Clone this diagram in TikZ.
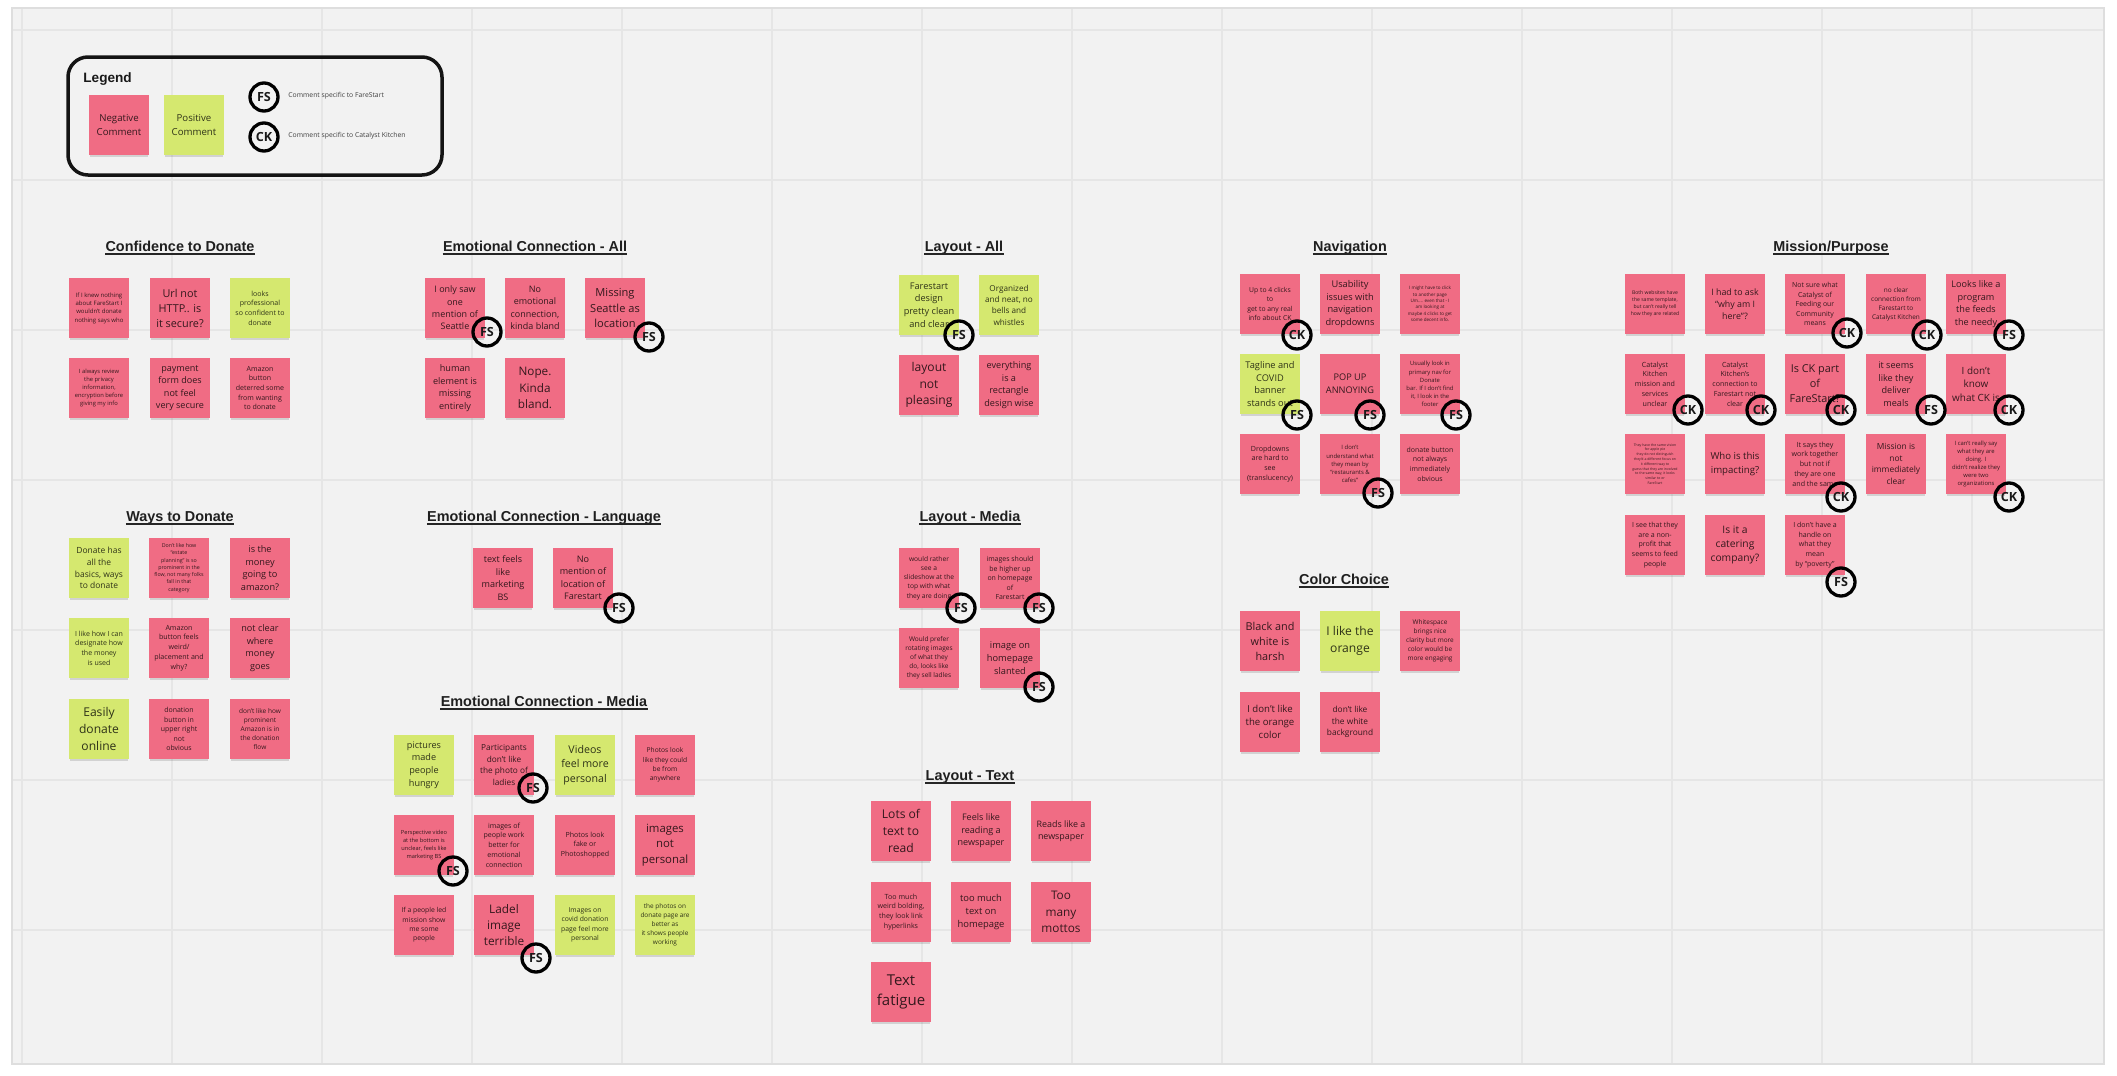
\documentclass[tikz,border=0pt]{standalone}
\usepackage{fontspec}
\setmainfont{Open Sans}
\newfontfamily\notefont{Open Sans}
\newfontfamily\titlefont{Liberation Sans}
\usetikzlibrary{shadows}
\definecolor{negc}{HTML}{F06C84}
\definecolor{posc}{HTML}{D5E86F}
\definecolor{canvasc}{HTML}{F2F2F2}
\definecolor{gridc}{HTML}{E6E6E6}
\colorlet{negt}{black!78!negc}
\colorlet{post}{black!78!posc}
\newcommand\fs[1]{\fontsize{\fpeval{0.362*#1}}{\fpeval{0.5*#1}}\selectfont}
\newcommand\snote[6]{\node[#4note, font={\notefont\fs{#5}}] (#1) at (#2,#3) {#6};}
\newcommand\badge[4]{\node[badge] (#1) at (#2,#3) {#4};}
\newcommand\ttl[4]{\node[ttl] (#1) at (#2,#3) {#4};
  \draw[uline] ([yshift=-1.35pt]#1.base west) -- ([yshift=-1.35pt]#1.base east);}
\tikzset{
  stickynote/.style={minimum width=30pt, minimum height=30pt, inner sep=0.5pt, align=center,
    drop shadow={shadow xshift=0pt, shadow yshift=-1.5pt, shadow scale=0.97, opacity=0.13, fill=black}},
  negnote/.style={stickynote, fill=negc, text=negt},
  posnote/.style={stickynote, fill=posc, text=post},
  badge/.style={circle, draw=black, line width=1.65pt, minimum size=14pt, inner sep=0pt,
    font=\notefont\bfseries\fontsize{6.3}{7}\selectfont, text=black!90},
  ttl/.style={anchor=base, inner sep=0pt, font=\titlefont\bfseries\fontsize{7.2}{8}\selectfont, text=black!88},
  uline/.style={line width=0.8pt, black!85},
  legtxt/.style={anchor=west, inner sep=0pt, font=\notefont\fontsize{3.4}{4}\selectfont, text=black!75},
  legbox/.style={draw=black!92, line width=1.75pt, rounded corners=10pt, minimum width=187pt, minimum height=59pt, inner sep=0pt},
}
\begin{document}
\begin{tikzpicture}[x=0.5pt, y=-0.5pt]
\useasboundingbox (0,0) rectangle (2117,1076);
\fill[white] (0,0) rectangle (2117,1076);
\fill[canvasc] (12,8) rectangle (2104,1064);
\foreach \gx in {22,172,...,2072} \draw[gridc, line width=0.6pt] (\gx,8) -- (\gx,1064);
\foreach \gy in {30,180,...,930} \draw[gridc, line width=0.6pt] (12,\gy) -- (2104,\gy);
\draw[black!13, line width=0.6pt] (12,8) rectangle (2104,1064);

% Legend
\node[legbox] (legend) at (255,116) {};
\node[anchor=base west, inner sep=0pt, font=\titlefont\bfseries\fontsize{6.8}{8}\selectfont, text=black!90] (legtitle) at (83,83) {Legend};
\snote{lgneg}{119}{125}{neg}{13.3}{Negative\\Comment}
\snote{lgpos}{194}{125}{pos}{13.3}{Positive\\Comment}
\badge{lgfs}{264}{97}{FS}
\badge{lgck}{264}{137}{CK}
\node[legtxt] (lgfstxt) at (288,96) {Comment specific to FareStart};
\node[legtxt] (lgcktxt) at (288,136) {Comment specific to Catalyst Kitchen};

% Titles
\ttl{tconf}{180}{251}{Confidence to Donate}
\ttl{tways}{180}{521}{Ways to Donate}
\ttl{teca}{535}{251}{Emotional Connection - All}
\ttl{tecl}{544}{521}{Emotional Connection - Language}
\ttl{tecm}{544}{706}{Emotional Connection - Media}
\ttl{tla}{964}{251}{Layout - All}
\ttl{tlm}{970}{521}{Layout - Media}
\ttl{tlt}{970}{780}{Layout - Text}
\ttl{tnav}{1350}{251}{Navigation}
\ttl{tcol}{1344}{584}{Color Choice}
\ttl{tmis}{1831}{251}{Mission/Purpose}

% Confidence to Donate
\snote{c1}{99}{308}{neg}{8.3}{If I knew nothing\\about FareStart I\\wouldn’t donate\\nothing says who}
\snote{c2}{180}{308}{neg}{15}{Url not\\HTTP.. is\\it secure?}
\snote{c3}{260}{308}{pos}{9.7}{looks\\professional\\so confident to\\donate}
\snote{c4}{99}{388}{neg}{8}{I always review\\the privacy\\information,\\encryption before\\giving my info}
\snote{c5}{180}{388}{neg}{12.5}{payment\\form does\\not feel\\very secure}
\snote{c6}{260}{388}{neg}{9.7}{Amazon\\button\\deterred some\\from wanting\\to donate}

% Ways to Donate
\snote{w1}{99}{568}{pos}{11.7}{Donate has\\all the\\basics, ways\\to donate}
\snote{w2}{179}{568}{neg}{7.3}{Don’t like how\\“estate\\planning” is so\\prominent in the\\flow, not many folks\\fall in that\\category}
\snote{w3}{260}{568}{neg}{12.7}{is the\\money\\going to\\amazon?}
\snote{w4}{99}{648}{pos}{9.7}{I like how I can\\designate how\\the money\\is used}
\snote{w5}{179}{648}{neg}{9.8}{Amazon\\button feels\\weird/\\placement and\\why?}
\snote{w6}{260}{648}{neg}{12.6}{not clear\\where\\money\\goes}
\snote{w7}{99}{729}{pos}{16.7}{Easily\\donate\\online}
\snote{w8}{179}{729}{neg}{9.6}{donation\\button in\\upper right\\not\\obvious}
\snote{w9}{260}{729}{neg}{9}{don’t like how\\prominent\\Amazon is in\\the donation\\flow}

% Emotional Connection - All
\snote{ea1}{455}{308}{neg}{12.4}{I only saw\\one\\mention of\\Seattle}
\snote{ea2}{535}{308}{neg}{12.4}{No\\emotional\\connection,\\kinda bland}
\snote{ea3}{615}{308}{neg}{15.3}{Missing\\Seattle as\\location}
\snote{ea4}{455}{388}{neg}{12.6}{human\\element is\\missing\\entirely}
\snote{ea5}{535}{388}{neg}{16.2}{Nope.\\Kinda\\bland.}

% Emotional Connection - Language
\snote{el1}{503}{578}{neg}{12.5}{text feels\\like\\marketing\\BS}
\snote{el2}{583}{578}{neg}{12.5}{No\\mention of\\location of\\Farestart}

% Emotional Connection - Media
\snote{em1}{424}{765}{pos}{12.6}{pictures\\made\\people\\hungry}
\snote{em2}{504}{765}{neg}{11.4}{Participants\\don’t like\\the photo of\\ladies}
\snote{em3}{585}{765}{pos}{14.7}{Videos\\feel more\\personal}
\snote{em4}{665}{765}{neg}{9.2}{Photos look\\like they could\\be from\\anywhere}
\snote{em5}{424}{845}{neg}{7.8}{Perspective video\\at the bottom is\\unclear, feels like\\marketing BS}
\snote{em6}{504}{845}{neg}{9.75}{images of\\people work\\better for\\emotional\\connection}
\snote{em7}{585}{845}{neg}{9.7}{Photos look\\fake or\\Photoshopped}
\snote{em8}{665}{845}{neg}{15.7}{images\\not\\personal}
\snote{em9}{424}{925}{neg}{9.4}{If a people led\\mission show\\me some\\people}
\snote{em10}{504}{925}{neg}{16.3}{Ladel\\image\\terrible}
\snote{em11}{585}{925}{pos}{9.4}{Images on\\covid donation\\page feel more\\personal}
\snote{em12}{665}{925}{pos}{8.9}{the photos on\\donate page are\\better as\\it shows people\\working}

% Layout - All
\snote{la1}{929}{305}{pos}{12.7}{Farestart\\design\\pretty clean\\and clear}
\snote{la2}{1009}{305}{pos}{11.3}{Organized\\and neat, no\\bells and\\whistles}
\snote{la3}{929}{385}{neg}{16.7}{layout\\not\\pleasing}
\snote{la4}{1009}{385}{neg}{12.6}{everything\\is a\\rectangle\\design wise}

% Layout - Media
\snote{lm1}{929}{578}{neg}{9.2}{would rather\\see a\\slideshow at the\\top with what\\they are doing}
\snote{lm2}{1010}{578}{neg}{9.6}{images should\\be higher up\\on homepage\\of\\Farestart}
\snote{lm3}{929}{658}{neg}{9}{Would prefer\\rotating images\\of what they\\do, looks like\\they sell ladles}
\snote{lm4}{1010}{658}{neg}{12.8}{image on\\homepage\\slanted}

% Layout - Text
\snote{lt1}{901}{831}{neg}{16.7}{Lots of\\text to\\read}
\snote{lt2}{981}{831}{neg}{12.5}{Feels like\\reading a\\newspaper}
\snote{lt3}{1061}{831}{neg}{12.3}{Reads like a\\newspaper}
\snote{lt4}{901}{912}{neg}{9.8}{Too much\\weird bolding,\\they look link\\hyperlinks}
\snote{lt5}{981}{912}{neg}{13}{too much\\text on\\homepage}
\snote{lt6}{1061}{912}{neg}{16.3}{Too\\many\\mottos}
\snote{lt7}{901}{992}{neg}{20.7}{Text\\fatigue}

% Navigation
\snote{n1}{1270}{304}{neg}{9.4}{Up to 4 clicks\\to\\get to any real\\info about CK}
\snote{n2}{1350}{304}{neg}{12.8}{Usability\\issues with\\navigation\\dropdowns}
\snote{n3}{1430}{304}{neg}{6.3}{I might have to click\\to another page\\Um.... even that - I\\am looking at\\maybe 4 clicks to get\\some decent info.}
\snote{n4}{1270}{384}{pos}{12.8}{Tagline and\\COVID\\banner\\stands out}
\snote{n5}{1350}{384}{neg}{12.7}{POP UP\\ANNOYING}
\snote{n6}{1430}{384}{neg}{8.1}{Usually look in\\primary nav for\\Donate\\bar. If I don’t find\\it, I look in the\\footer}
\snote{n7}{1270}{464}{neg}{9.8}{Dropdowns\\are hard to\\see\\(translucency)}
\snote{n8}{1350}{464}{neg}{8.2}{I don’t\\understand what\\they mean by\\“restaurants \&\\cafes”}
\snote{n9}{1430}{464}{neg}{9.6}{donate button\\not always\\immediately\\obvious}

% Color Choice
\snote{cc1}{1270}{641}{neg}{15}{Black and\\white is\\harsh}
\snote{cc2}{1350}{641}{pos}{16.7}{I like the\\orange}
\snote{cc3}{1430}{641}{neg}{8.9}{Whitespace\\brings nice\\clarity but more\\color would be\\more engaging}
\snote{cc4}{1270}{722}{neg}{13.3}{I don’t like\\the orange\\color}
\snote{cc5}{1350}{722}{neg}{11.5}{don’t like\\the white\\background}

% Mission/Purpose
\snote{m1}{1655}{304}{neg}{7}{Both websites have\\the same template,\\but can’t really tell\\how they are related}
\snote{m2}{1735}{304}{neg}{12.2}{I had to ask\\“why am I\\here”?}
\snote{m3}{1815}{304}{neg}{9.6}{Not sure what\\Catalyst of\\Feeding our\\Community\\means}
\snote{m4}{1896}{304}{neg}{8.9}{no clear\\connection from\\Farestart to\\Catalyst Kitchen}
\snote{m5}{1976}{304}{neg}{12.6}{Looks like a\\program\\the feeds\\the needy}
\snote{m6}{1655}{384}{neg}{9.8}{Catalyst\\Kitchen\\mission and\\services\\unclear}
\snote{m7}{1735}{384}{neg}{9.75}{Catalyst\\Kitchen’s\\connection to\\Farestart not\\clear}
\snote{m8}{1815}{384}{neg}{15}{Is CK part\\of\\FareStart?}
\snote{m9}{1896}{384}{neg}{12.6}{it seems\\like they\\deliver\\meals}
\snote{m10}{1976}{384}{neg}{13.7}{I don’t\\know\\what CK is}
\snote{m11}{1655}{464}{neg}{4.8}{They have the same vision\\for apple pie\\they do not distinguish\\they’d a different focus on\\it different way to\\guess that they are involved\\to the same way, it looks\\similar to or\\FareStart}
\snote{m12}{1735}{464}{neg}{13.3}{Who is this\\impacting?}
\snote{m13}{1815}{464}{neg}{9.8}{It says they\\work together\\but not if\\they are one\\and the same}
\snote{m14}{1896}{464}{neg}{11.6}{Mission is\\not\\immediately\\clear}
\snote{m15}{1976}{464}{neg}{8.1}{I can’t really say\\what they are\\doing. I\\didn’t realize they\\were two\\organizations}
\snote{m16}{1655}{545}{neg}{9.7}{I see that they\\are a non-\\profit that\\seems to feed\\people}
\snote{m17}{1735}{545}{neg}{14.2}{Is it a\\catering\\company?}
\snote{m18}{1815}{545}{neg}{9.7}{I don’t have a\\handle on\\what they\\mean\\by “poverty”}

% Badges
\badge{b1}{487}{332}{FS}
\badge{b2}{649}{337}{FS}
\badge{b3}{619}{608}{FS}
\badge{b4}{533}{788}{FS}
\badge{b5}{453}{871}{FS}
\badge{b6}{536}{958}{FS}
\badge{b7}{959}{335}{FS}
\badge{b8}{961}{608}{FS}
\badge{b9}{1039}{608}{FS}
\badge{b10}{1039}{687}{FS}
\badge{b11}{1297}{335}{CK}
\badge{b12}{1297}{415}{FS}
\badge{b13}{1370}{415}{FS}
\badge{b14}{1456}{415}{FS}
\badge{b15}{1378}{493}{FS}
\badge{b16}{1847}{333}{CK}
\badge{b17}{1927}{335}{CK}
\badge{b18}{2009}{335}{FS}
\badge{b19}{1688}{410}{CK}
\badge{b20}{1761}{410}{CK}
\badge{b21}{1841}{410}{CK}
\badge{b22}{1931}{410}{FS}
\badge{b23}{2009}{410}{CK}
\badge{b24}{1841}{497}{CK}
\badge{b25}{2009}{497}{CK}
\badge{b26}{1841}{582}{FS}
\end{tikzpicture}
\end{document}
